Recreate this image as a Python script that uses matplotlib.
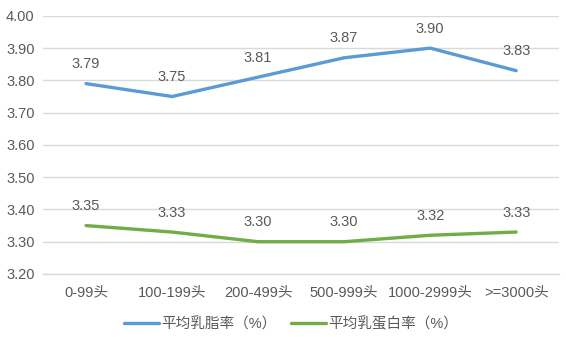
import matplotlib
matplotlib.use("Agg")
import matplotlib.pyplot as plt

plt.rcParams["font.family"] = ["Liberation Sans", "Noto Sans CJK SC"]

categories = ["0-99头", "100-199头", "200-499头", "500-999头", "1000-2999头", ">=3000头"]
fat_rate = [3.79, 3.75, 3.81, 3.87, 3.90, 3.83]
protein_rate = [3.35, 3.33, 3.30, 3.30, 3.32, 3.33]
series_names = ["平均乳脂率（%）", "平均乳蛋白率（%）"]
yticks = [3.20, 3.30, 3.40, 3.50, 3.60, 3.70, 3.80, 3.90, 4.00]

TEXT = "#595959"
GRID = "#D9D9D9"
FS = 10.5

fig = plt.figure(figsize=(5.66, 3.37), dpi=100)
ax = fig.add_axes([0.076, 0.187, 0.912, 0.766])

x = list(range(len(categories)))
for vals, color, name in [(fat_rate, "#5B9BD5", series_names[0]),
                          (protein_rate, "#70AD47", series_names[1])]:
    ax.plot(x, vals, color=color, linewidth=2.4, solid_capstyle="round",
            label=name, zorder=3)
    for xi, v in zip(x, vals):
        ax.annotate(f"{v:.2f}", (xi, v), xytext=(0, 9), textcoords="offset points",
                    ha="center", va="bottom", fontsize=FS, color=TEXT, zorder=4)

ax.set_xlim(-0.5, len(categories) - 0.5)
ax.set_ylim(3.20, 4.00)
ax.set_yticks(yticks)
ax.set_yticklabels([f"{t:.2f}" for t in yticks])
ax.set_xticks(x)
ax.set_xticklabels(categories)
ax.tick_params(axis="both", length=0, labelsize=FS, colors=TEXT)
ax.tick_params(axis="x", pad=8)
ax.tick_params(axis="y", pad=6)
ax.grid(axis="y", color=GRID, linewidth=1)
ax.set_axisbelow(True)
for side in ["top", "right", "left"]:
    ax.spines[side].set_visible(False)
ax.spines["bottom"].set_color(GRID)
ax.spines["bottom"].set_linewidth(1)

fig.legend(loc="lower center", bbox_to_anchor=(0.515, -0.022), ncol=2, frameon=False,
           fontsize=FS, labelcolor=TEXT, handlelength=2.4, columnspacing=1.0,
           handletextpad=0.15)

fig.savefig("out.png", dpi=100)
